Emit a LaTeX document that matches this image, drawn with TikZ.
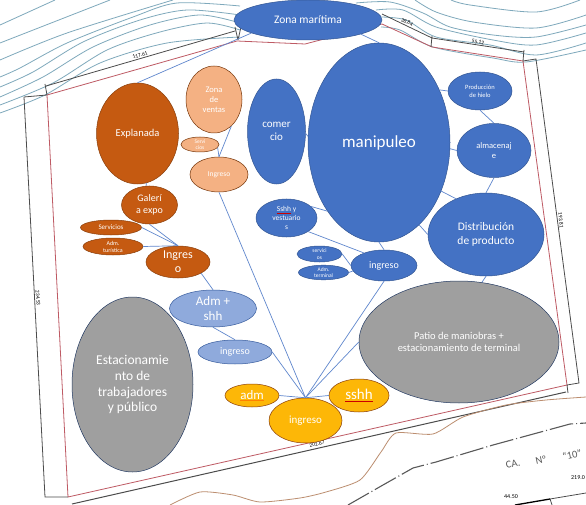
\documentclass[tikz,border=0pt]{standalone}
\usepackage{fontspec}
\setmainfont{Carlito}
\usetikzlibrary{shapes.geometric}
\definecolor{azul}{HTML}{4472C4}
\definecolor{celeste}{HTML}{8FAADC}
\definecolor{marron}{HTML}{C55A11}
\definecolor{durazno}{HTML}{F4B183}
\definecolor{plomo}{HTML}{9F9F9F}
\definecolor{ambar}{HTML}{FDB707}
\definecolor{curva}{HTML}{7FA9BC}
\definecolor{rojizo}{HTML}{BE5A64}
\definecolor{terreno}{HTML}{BC8E70}
\newcommand{\fs}[1]{\fontsize{#1pt}{1.18\dimexpr #1pt\relax}\selectfont}
\newcommand{\orto}[2]{\setbox0\hbox{#2}\rlap{\color{#1}\rule[-1.6pt]{\wd0}{0.6pt}}#2}
\tikzset{
  bubble/.style={ellipse,draw,inner sep=0pt,text=white,align=center,line width=0.5pt},
  bazul/.style={bubble,fill=azul,draw=azul!75!black},
  bceleste/.style={bubble,fill=celeste,draw=azul!80!black},
  bmarron/.style={bubble,fill=marron,draw=marron!70!black},
  bdurazno/.style={bubble,fill=durazno,draw=marron!60!black},
  bplomo/.style={bubble,fill=plomo,draw=azul!50!black},
  bambar/.style={bubble,fill=ambar,draw=marron!70!black},
  link/.style={azul!85!white,line width=0.7pt},
  isoline/.style={color=curva,line width=0.8pt},
  lindero/.style={color=rojizo,line width=0.8pt},
  cota/.style={black!70,line width=0.8pt},
  cotatxt/.style={font=\fs{5.5},text=black,inner sep=0pt},
  plano/.style={text=black!65,inner sep=0pt}
}
\begin{document}
\begin{tikzpicture}[x=1pt,y=-1pt]
  \useasboundingbox[fill=white] (0,0) rectangle (586,505);
  \clip (0,0) rectangle (586,505);

  \draw [isoline] plot[smooth] coordinates {(0,25) (55,0)};
  \draw [isoline] plot[smooth] coordinates {(0,43) (110,0)};
  \draw [isoline] plot[smooth] coordinates {(0,60) (67,33) (173,0)};
  \draw [isoline] plot[smooth] coordinates {(0,77) (20,68) (67,43) (133,17) (177,3) (240,6)};
  \draw [isoline] plot[smooth] coordinates {(0,87) (33,72) (83,42) (140,20) (187,10) (240,15)};
  \draw [isoline] plot[smooth] coordinates {(0,97) (43,77) (93,47) (150,25) (200,15) (240,23)};
  \draw [isoline] plot[smooth] coordinates {(0,105) (53,83) (107,50) (160,32) (207,23) (240,30)};
  \draw [isoline] plot[smooth] coordinates {(0,113) (45,95) (100,63) (167,43) (240,37)};
  \draw [isoline] plot[smooth] coordinates {(451,0) (470,5) (536,12) (580,0)};
  \draw [isoline] plot[smooth] coordinates {(415,0) (436,12) (473,22) (536,28) (586,15)};
  \draw [isoline] plot[smooth] coordinates {(356,3) (390,2) (423,13) (450,27) (493,35) (536,37) (586,25)};
  \draw [isoline] plot[smooth] coordinates {(376,10) (403,10) (436,27) (493,40) (536,45) (586,33)};
  \draw [isoline] plot[smooth] coordinates {(381,17) (406,20) (436,37) (490,45) (536,55) (586,43)};
  \draw [isoline] plot[smooth] coordinates {(381,27) (400,30) (433,47) (493,58) (526,62) (586,50)};

  \draw [lindero] (47,95) -- (237,41) -- (305,44) -- (382,24) -- (432,47) -- (523,61) -- (567,385) -- (68,497) -- cycle;
  \draw [cota] (24,97) -- (47,95) (45,84) -- (47,95);
  \draw [cota] (46,86) -- (235,31) (235,27) -- (238,40) (241,27) -- (238,40);
  \draw [cota] (382,14) -- (432,38) -- (524,52) (432,36) -- (431,47) (524,50) -- (523,61);
  \draw [cota] (523,61) -- (536,59) -- (579,383) -- (567,385) (567,385) -- (568,393);
  \draw [cota] (24,97) -- (45,497) -- (68,497);
  \draw [cota,line width=1pt] (72,504) -- (566,392);

  \draw [color=terreno,line width=0.8pt] plot[smooth,tension=0.4] coordinates {(170,505) (200,492) (233,495) (260,502) (300,498) (326,492) (360,480) (381,452) (396,433) (433,434) (463,417) (506,405) (546,400) (586,397)};
  \draw [black!65,line width=1.1pt,dash pattern=on 24pt off 3pt on 1pt off 3pt] (348,505) -- (383,485) -- (413,468) -- (436,462) -- (493,445) -- (570,424) -- (586,423);
  \draw [black,line width=1.3pt] (515,505) -- (550,499);
  \draw [black!70,line width=0.8pt] (550,499) -- (586,493) (550,499) -- (552,505);

  \node [cotatxt,rotate=16] (lado1) at (140,55) {117.61};
  \node [cotatxt,rotate=-25] (lado2) at (407,22) {38.84};
  \node [cotatxt,rotate=-9] (lado3) at (478,42) {55.12};
  \node [cotatxt,rotate=-85] (lado4) at (561,220) {193.81};
  \node [cotatxt,rotate=-86] (lado5) at (38,298) {234.53};
  \node [cotatxt,rotate=13] (lado6) at (317,444) {202.67};
  \node [plano,font=\fs{10.5},rotate=12] (calle1) at (513,464) {CA.};
  \node [plano,font=\fs{10.5},rotate=12] (calle2) at (541,460) {Nº};
  \node [plano,font=\fs{10.5},rotate=12] (calle3) at (572,455) {“10”};
  \node [cotatxt,font=\fs{6}] (cota1) at (578,478) {219.0};
  \node [cotatxt,font=\fs{6}] (cota2) at (511,497) {44.50};

  \node [bazul,minimum width=148pt,minimum height=40pt,font=\fs{11.5}] (zona) at (308,20) {Zona marítima};
  \node [bmarron,minimum width=82pt,minimum height=101pt,font=\fs{10.5}] (expl) at (137.5,133.5) {Explanada};
  \node [bdurazno,minimum width=56pt,minimum height=67pt,font=\fs{8.5}] (vent) at (214,99.5) {Zona\\de\\ventas};
  \node [bdurazno,minimum width=38pt,minimum height=15pt,font=\fs{5.5}] (serv) at (200,144.5) {Servi\\cios};
  \node [bdurazno,minimum width=58pt,minimum height=35pt,font=\fs{7.5}] (ingP) at (219,174.5) {Ingreso};
  \node [bazul,minimum width=58pt,minimum height=105pt,font=\fs{11}] (com) at (276.5,131.5) {comer\\cio};
  \node [bazul,minimum width=142pt,minimum height=199pt,font=\fs{17}] (mani) at (379,142.5) {manipuleo};
  \node [bazul,minimum width=64pt,minimum height=38pt,font=\fs{6.5}] (prod) at (480,91) {Producción\\de hielo};
  \node [bazul,minimum width=74pt,minimum height=54pt,font=\fs{8.5}] (alm) at (494,150.5) {almacenaj\\e};
  \node [bazul,minimum width=116pt,minimum height=83pt,font=\fs{11.5}] (dist) at (486,234.5) {Distribución\\de producto};
  \node [bplomo,minimum width=200pt,minimum height=122pt,font=\fs{10.5}] (patio) at (459,342) {Patio de maniobras +\\estacionamiento de terminal};
  \node [bazul,minimum width=61pt,minimum height=38pt,font=\fs{7.5}] (vest) at (286.5,218) {\orto{red!80!black}{Sshh} y\\vestuario\\s};
  \node [bazul,minimum width=45pt,minimum height=16pt,font=\fs{5.5}] (svcT) at (319.5,254) {servici\\os};
  \node [bazul,minimum width=50pt,minimum height=13pt,font=\fs{5.5}] (admT) at (323.5,272.5) {Adm.\\terminal};
  \node [bazul,minimum width=66pt,minimum height=31pt,font=\fs{10}] (ingT) at (384,265.5) {ingreso};
  \node [bmarron,minimum width=56pt,minimum height=38pt,font=\fs{10}] (gal) at (149.5,205) {Galerí\\a expo};
  \node [bmarron,minimum width=61pt,minimum height=15pt,font=\fs{7}] (svcL) at (111,227.5) {Servicios};
  \node [bmarron,minimum width=60pt,minimum height=17pt,font=\fs{6}] (admL) at (113,246.5) {Adm.\\turística};
  \node [bmarron,minimum width=64pt,minimum height=32pt,font=\fs{12}] (ingB) at (178,262) {Ingres\\o};
  \node [bceleste,minimum width=87pt,minimum height=37pt,font=\fs{13}] (admS) at (213,308.5) {Adm +\\shh};
  \node [bceleste,minimum width=74pt,minimum height=24pt,font=\fs{10}] (ingL) at (235,352) {ingreso};
  \node [bplomo,minimum width=121pt,minimum height=175pt,font=\fs{13.5}] (esta) at (132.5,384.5) {Estacionamie\\nto de\\trabajadores\\y público};
  \node [bambar,minimum width=54pt,minimum height=23pt,font=\fs{13}] (adm) at (252,395.5) {\orto{orange}{adm}};
  \node [bambar,minimum width=60pt,minimum height=33pt,font=\fs{15}] (sshh) at (359,395.5) {\orto{red!80!black}{sshh}};
  \node [bambar,minimum width=73pt,minimum height=45pt,font=\fs{11}] (ingO) at (305.5,420.5) {ingreso};

  \draw [link] (zona.193) -- (expl.north);
  \draw [link] (zona.-15) -- (mani.north);
  \draw [link] (vent.-57) -- (ingP.north);
  \draw [link] (serv.-10) -- (ingP.north);
  \draw [link] (expl.-80) -- (gal.100);
  \draw [link] (gal.south) -- (ingB.north);
  \draw [link] (svcL.east) -- (ingB.north);
  \draw [link] (admL.east) -- (ingB.north);
  \draw [link] (ingB.-26) -- (admS.north);
  \draw [link] (admS.south) -- (ingL.north);
  \draw [link] (ingL.east) -- (ingO.north);
  \draw [link] (ingP.south) -- (ingO.north);
  \draw [link] (adm.east) -- (ingO.north);
  \draw [link] (sshh.west) -- (ingO.north);
  \draw [link] (ingT.south) -- (ingO.north);
  \draw [link] (patio.west) -- (ingO.north);
  \draw [link] (com.-4) -- (mani.175);
  \draw [link] (mani.41) -- (prod.west);
  \draw [link] (prod.south) -- (alm.north);
  \draw [link] (mani.-5) -- (alm.west);
  \draw [link] (alm.south) -- (dist.north);
  \draw [link] (mani.-38) -- (dist.130);
  \draw [link] (mani.-64) -- (dist.west);
  \draw [link] (vest.25) -- (mani.233);
  \draw [link] (vest.-32) -- (ingT.148);
  \draw [link] (svcT.east) -- (ingT.west);
  \draw [link] (admT.east) -- (ingT.190);
  \draw [link] (mani.south) -- (ingT.north);
  \draw [link] (dist.south) -- (patio.69);
\end{tikzpicture}
\end{document}
